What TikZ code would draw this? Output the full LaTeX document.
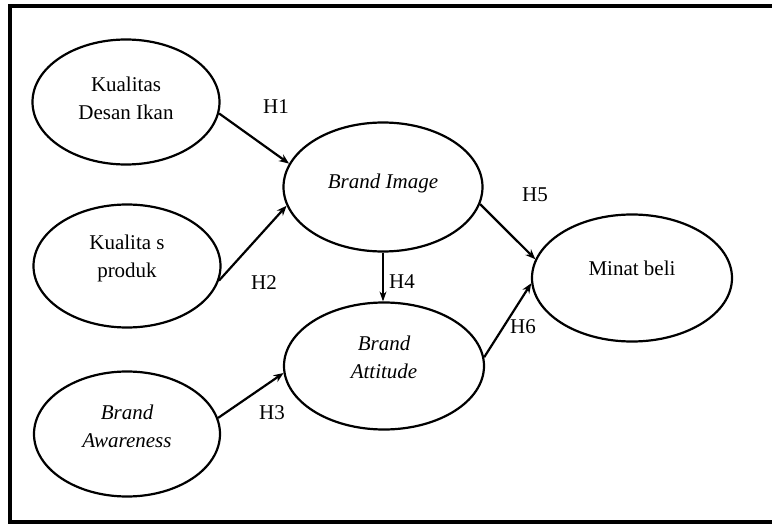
\documentclass[tikz,border=0pt]{standalone}
\usepackage{fontspec}
\setmainfont{Liberation Serif}
\usetikzlibrary{shapes.geometric,arrows.meta}
\begin{document}
\begin{tikzpicture}[x=0.5pt,y=-0.5pt,
  oval/.style={draw, ellipse, line width=1.1pt, inner sep=0pt},
  lbl/.style={font=\fontsize{10.5}{13}\selectfont, align=center, inner sep=0pt},
  conn/.style={line width=1.1pt, -{Stealth[length=5pt,width=4pt]}},
  thinconn/.style={line width=0.6pt, -{Stealth[length=5pt,width=3.5pt]}}]
\useasboundingbox (0,0) rectangle (772,524);
\draw[line width=1.6pt] (10,6) rectangle (790,522);
% ellipses
\node[oval, minimum width=93.5pt, minimum height=62.5pt] (kdi) at (126,102) {};
\node[oval, minimum width=93.5pt, minimum height=61.5pt] (kp) at (127,266) {};
\node[oval, minimum width=93pt, minimum height=62.5pt] (ba) at (127,434) {};
\node[oval, minimum width=99.5pt, minimum height=64.5pt] (bi) at (383,187) {};
\node[oval, minimum width=100pt, minimum height=63.5pt] (bat) at (384,366) {};
\node[oval, minimum width=100pt, minimum height=63.5pt] (mb) at (632,278) {};
% texts
\node[lbl] (tkdi) at (126,98) {Kualitas\\[1pt]Desan Ikan};
\node[lbl] (tkp) at (127,258) {Kualita s\\[1pt]produk};
\node[lbl] (tba) at (127,426) {\itshape Brand\\[1pt]\itshape Awareness};
\node[lbl] (tbi) at (383,183) {\itshape Brand Image};
\node[lbl] (tbat) at (384,357) {\itshape Brand\\[1pt]\itshape Attitude};
\node[lbl] (tmb) at (632,268) {Minat beli};
% connectors
\draw[conn] (kdi.-7) -- (bi.166);
\draw[conn] (kp.-9) -- (bi.191);
\draw[conn] (ba.10) -- (bat.184);
\draw[thinconn] (bi.south) -- (bi.south |- bat.north);
\draw[conn] (bi.-10) -- (mb.169);
\draw[conn] (bat.5) -- (mb.183);
% hypothesis labels
\node[lbl] (h1) at (276,107) {H1};
\node[lbl] (h2) at (264,283) {H2};
\node[lbl] (h3) at (272,413) {H3};
\node[lbl] (h4) at (402,282) {H4};
\node[lbl] (h5) at (535,195) {H5};
\node[lbl] (h6) at (523,327) {H6};
\end{tikzpicture}
\end{document}
